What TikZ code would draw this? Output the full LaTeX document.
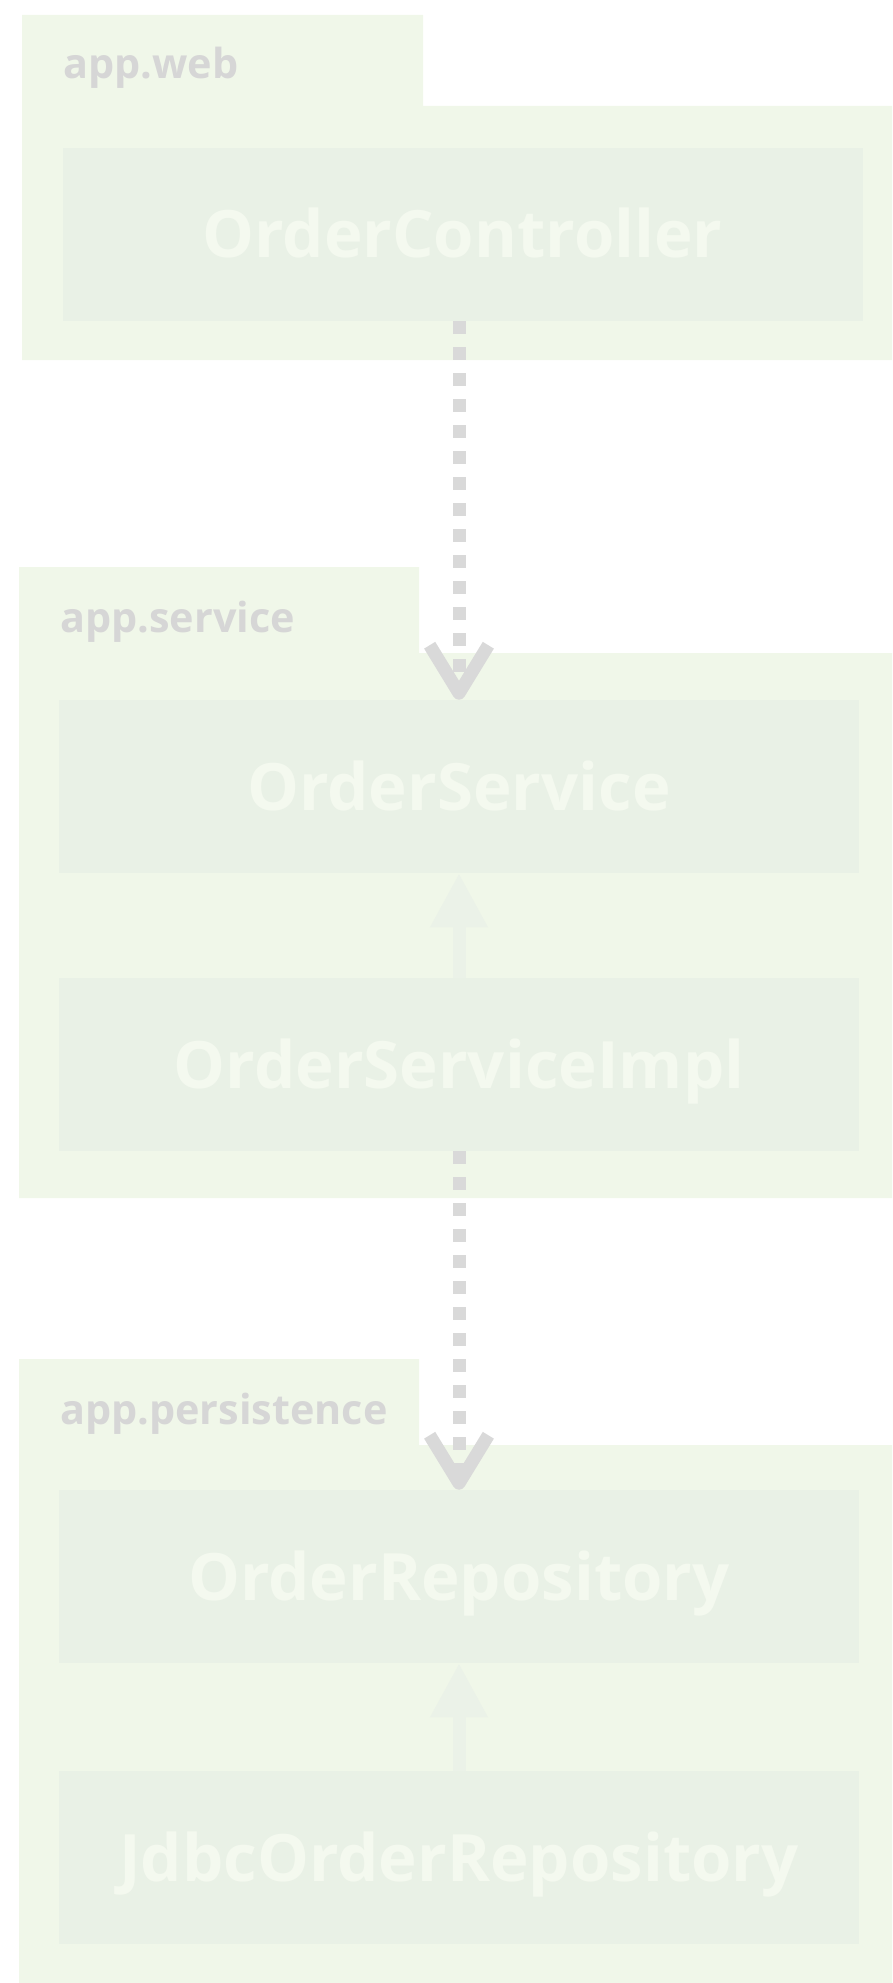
\documentclass[tikz,border=0pt]{standalone}
\usepackage{fontspec}
\setmainfont{Open Sans}
\usetikzlibrary{arrows.meta}
\definecolor{PkgFill}{HTML}{F0F7E9}
\definecolor{PkgLabel}{HTML}{D6D6D6}
\definecolor{ClassFill}{HTML}{E9F1E6}
\definecolor{ClassText}{HTML}{F4F9EF}
\definecolor{DepLine}{HTML}{D9D9D9}
\definecolor{RealLine}{HTML}{EBF2E8}

\tikzset{
  classbox/.style={fill=ClassFill,text=ClassText,minimum width=600pt,minimum height=129.75pt,
    inner sep=0pt,text height=35.25pt,text depth=0pt,
    font=\fontsize{49}{55}\selectfont\bfseries},
  pkglabel/.style={anchor=base west,inner sep=0pt,text=PkgLabel,
    font=\fontsize{31}{37}\selectfont\bfseries},
  depends/.style={DepLine,line width=9.75pt,dash pattern=on 9.75pt off 9.75pt,
    -{Straight Barb[length=36pt,width=44pt,line join=round,line cap=butt]}},
  realizes/.style={RealLine,line width=9.75pt,-{Triangle[length=40.5pt,width=40.5pt]}}
}

\begin{document}
\begin{tikzpicture}[x=0.75pt,y=-0.75pt]
  \useasboundingbox (0,0) rectangle (892,1983);
  % packages
  \fill[PkgFill] (22,15) -- (423,15) -- (423,106) -- (892,106) -- (892,360) -- (22,360) -- cycle;
  \fill[PkgFill] (19,567) -- (419,567) -- (419,653) -- (892,653) -- (892,1198) -- (19,1198) -- cycle;
  \fill[PkgFill] (19,1359) -- (419,1359) -- (419,1445) -- (892,1445) -- (892,1983) -- (19,1983) -- cycle;
  \node[pkglabel] (webLbl) at (63,79) {app.web};
  \node[pkglabel] (serviceLbl) at (60,632) {app.service};
  \node[pkglabel] (persistLbl) at (60,1424) {app.persistence};
  % classes
  \node[classbox] (ctrl) at (462.5,234.5) {OrderController};
  \node[classbox] (svc) at (459,786.5) {OrderService};
  \node[classbox] (svcImpl) at (459,1064.5) {OrderServiceImpl};
  \node[classbox] (repo) at (459,1576.5) {OrderRepository};
  \node[classbox] (jdbcRepo) at (459,1857.5) {JdbcOrderRepository};
  % dependencies
  \draw[depends] (svc.north |- ctrl.south) -- (svc.north);
  \draw[depends] (svcImpl.south) -- (repo.north);
  \draw[realizes] (svcImpl.north) -- (svc.south);
  \draw[realizes] (jdbcRepo.north) -- (repo.south);
\end{tikzpicture}
\end{document}
